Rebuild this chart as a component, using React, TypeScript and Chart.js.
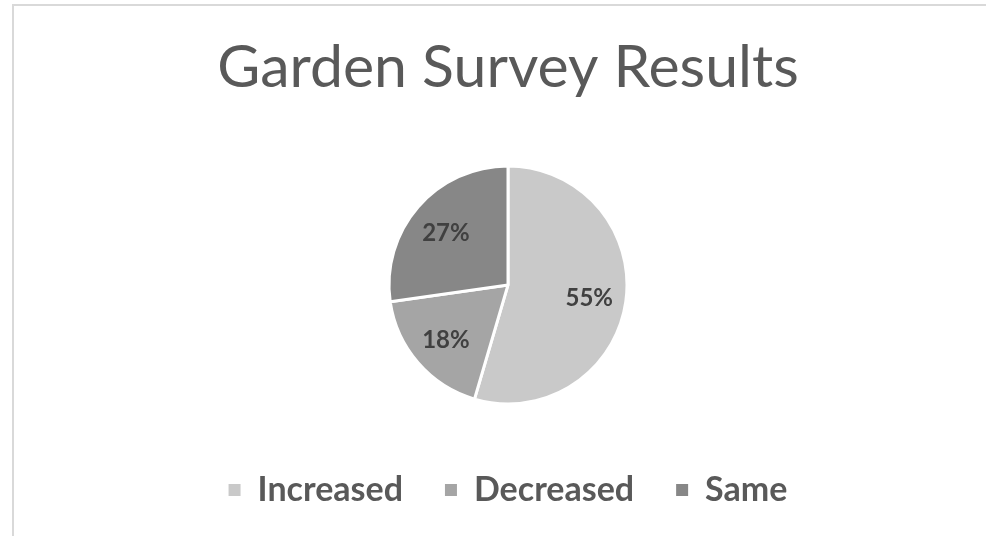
import React, { useEffect, useRef } from "react";
import { Chart, registerables } from "chart.js";

Chart.register(...registerables);

const titleText = "Garden Survey Results";
const categories = ["Increased", "Decreased", "Same"];
const responses = [6, 2, 3];
const sliceColors = ["#C9C9C9", "#A5A5A5", "#878787"];

const pieLabels = {
  id: "pieLabels",
  afterDatasetsDraw(chart: any) {
    const ctx = chart.ctx as CanvasRenderingContext2D;
    const meta = chart.getDatasetMeta(0);
    const data = chart.data.datasets[0].data as number[];
    const total = data.reduce((a, b) => a + b, 0);
    ctx.save();
    ctx.font = "bold 24px Lato";
    ctx.fillStyle = "#404040";
    ctx.textAlign = "center";
    ctx.textBaseline = "middle";
    meta.data.forEach((arc: any, i: number) => {
      const { x, y, startAngle, endAngle, outerRadius } = arc.getProps(
        ["x", "y", "startAngle", "endAngle", "outerRadius"],
        true
      );
      const mid = (startAngle + endAngle) / 2;
      const r = outerRadius * 0.69;
      ctx.fillText(
        Math.round((data[i] / total) * 100) + "%",
        x + Math.cos(mid) * r,
        y + Math.sin(mid) * r + 2
      );
    });
    ctx.restore();
  },
};

export default function App() {
  const ref = useRef<HTMLCanvasElement>(null);
  useEffect(() => {
    const chart = new Chart(ref.current!, {
      type: "pie",
      data: {
        labels: categories,
        datasets: [
          {
            data: responses,
            backgroundColor: sliceColors,
            borderColor: "#ffffff",
            borderWidth: 3,
            radius: 119,
          } as any,
        ],
      },
      options: {
        responsive: false,
        animation: false,
        layout: { padding: 0 },
        plugins: {
          title: {
            display: true,
            text: titleText,
            color: "#595959",
            font: { family: "Lato", size: 59, weight: "normal", lineHeight: 1.2 },
            padding: { top: 27, bottom: 35 },
          },
          legend: {
            display: true,
            position: "bottom",
            labels: {
              color: "#595959",
              font: { family: "Lato", size: 34, weight: "bold" },
              boxWidth: 12,
              boxHeight: 12,
              padding: 42,
              generateLabels(chart: any) {
                const ds = chart.data.datasets[0];
                return (chart.data.labels as string[]).map((label, i) => ({
                  text: label,
                  fillStyle: (ds.backgroundColor as string[])[i],
                  strokeStyle: (ds.backgroundColor as string[])[i],
                  lineWidth: 0,
                  fontColor: "#595959",
                  hidden: false,
                  index: i,
                }));
              },
            },
          },
          tooltip: { enabled: false },
        },
      },
      plugins: [pieLabels],
    });
    return () => chart.destroy();
  }, []);

  return (
    <div
      style={{
        position: "fixed",
        left: 0,
        top: 0,
        width: 986,
        height: 536,
        overflow: "hidden",
        background: "#ffffff",
      }}
    >
      <div
        style={{
          position: "absolute",
          left: 12,
          top: 4,
          width: 988,
          height: 600,
          border: "2px solid #D9D9D9",
          background: "#ffffff",
        }}
      >
        <canvas ref={ref} width={988} height={511} style={{ display: "block" }} />
      </div>
    </div>
  );
}
